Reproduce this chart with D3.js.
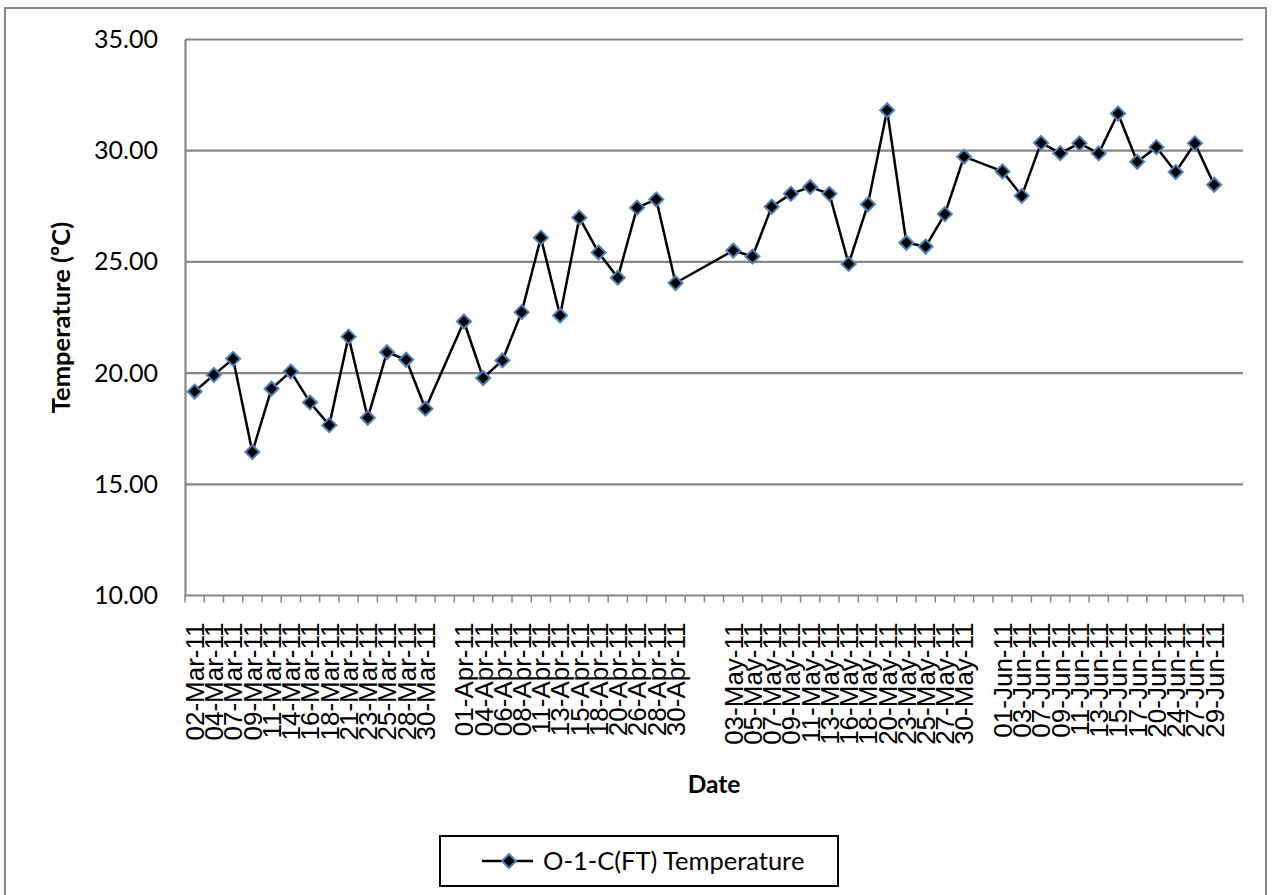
<!DOCTYPE html>
<html>
<head>
<meta charset="utf-8">
<script src="https://cdn.jsdelivr.net/npm/d3@7"></script>
<style>
  html, body { margin: 0; padding: 0; background: #ffffff; }
  svg { display: block; }
</style>
</head>
<body>
<svg id="chart" width="1272" height="895"></svg>
<script>
// ---- data ----
const categories = [
  "02-Mar-11","04-Mar-11","07-Mar-11","09-Mar-11","11-Mar-11","14-Mar-11","16-Mar-11","18-Mar-11","21-Mar-11","23-Mar-11","25-Mar-11","28-Mar-11","30-Mar-11",
  "",
  "01-Apr-11","04-Apr-11","06-Apr-11","08-Apr-11","11-Apr-11","13-Apr-11","15-Apr-11","18-Apr-11","20-Apr-11","26-Apr-11","28-Apr-11","30-Apr-11",
  "","",
  "03-May-11","05-May-11","07-May-11","09-May-11","11-May-11","13-May-11","16-May-11","18-May-11","20-May-11","23-May-11","25-May-11","27-May-11","30-May-11",
  "",
  "01-Jun-11","03-Jun-11","07-Jun-11","09-Jun-11","11-Jun-11","13-Jun-11","15-Jun-11","17-Jun-11","20-Jun-11","24-Jun-11","27-Jun-11","29-Jun-11",
  ""
];
const temperature = [
  19.17, 19.92, 20.64, 16.45, 19.30, 20.07, 18.68, 17.66, 21.64, 17.99, 20.94, 20.60, 18.40,
  null,
  22.32, 19.78, 20.57, 22.74, 26.09, 22.59, 26.99, 25.42, 24.29, 27.44, 27.81, 24.05,
  null, null,
  25.51, 25.24, 27.48, 28.06, 28.37, 28.06, 24.91, 27.59, 31.82, 25.86, 25.69, 27.15, 29.73,
  null,
  29.07, 27.97, 30.35, 29.89, 30.33, 29.88, 31.67, 29.50, 30.16, 29.04, 30.33, 28.47,
  null
];
const yTicks = [10, 15, 20, 25, 30, 35];
const seriesName = "O-1-C(FT) Temperature";
const xTitle = "Date";
const yTitle = "Temperature (ºC)";

// ---- layout ----
const svg = d3.select("#chart");
const plot = { left: 185, right: 1243, top: 39.5, bottom: 595.5 };
const grey = "#868686";
const calibri = "Lato, 'Open Sans', sans-serif";
const arial = "'Liberation Sans', Arial, sans-serif";

// outer chart border
svg.append("rect")
  .attr("x", 5).attr("y", 8).attr("width", 1261).attr("height", 900)
  .attr("fill", "none").attr("stroke", grey).attr("stroke-width", 2);

const x = d3.scaleBand()
  .domain(d3.range(categories.length))
  .range([plot.left, plot.right])
  .padding(0);
const y = d3.scaleLinear().domain([10, 35]).range([plot.bottom, plot.top]);

// gridlines
svg.append("g").selectAll("line")
  .data(yTicks.filter(t => t !== 10))
  .join("line")
  .attr("x1", plot.left).attr("x2", plot.right)
  .attr("y1", d => y(d)).attr("y2", d => y(d))
  .attr("stroke", grey).attr("stroke-width", 2.2);

// y axis
const yAxis = svg.append("g")
  .attr("transform", `translate(${plot.left},0)`)
  .call(d3.axisLeft(y).tickValues(yTicks).tickFormat(d3.format(".2f")).tickSize(0).tickPadding(27));
yAxis.select(".domain").attr("stroke", grey).attr("stroke-width", 2.2);
yAxis.selectAll("text")
  .attr("font-family", calibri).attr("font-size", 25).attr("fill", "#000");

// x axis
const xAxis = svg.append("g")
  .attr("transform", `translate(0,${plot.bottom})`)
  .call(d3.axisBottom(x).tickFormat(i => categories[i]).tickSize(0).tickPadding(0));
xAxis.select(".domain").attr("stroke", grey).attr("stroke-width", 2.2)
  .attr("d", `M${plot.left},0H${plot.right}`);
xAxis.selectAll(".tick text")
  .attr("font-family", arial).attr("font-size", 26).attr("fill", "#000")
  .attr("transform", "rotate(-90)")
  .attr("text-anchor", "end")
  .attr("x", -27).attr("y", 0).attr("dy", "0.36em");
// tick marks at category boundaries
const boundaries = d3.range(categories.length).map(i => x(i)).concat([plot.right]);
xAxis.append("g").selectAll("line")
  .data(boundaries)
  .join("line")
  .attr("x1", d => d).attr("x2", d => d)
  .attr("y1", 0).attr("y2", 7)
  .attr("stroke", grey).attr("stroke-width", 1.5);

// axis titles
svg.append("text")
  .attr("transform", `translate(61,${(plot.top + plot.bottom) / 2}) rotate(-90)`)
  .attr("text-anchor", "middle").attr("dy", "0.35em")
  .attr("font-family", calibri).attr("font-weight", "bold").attr("font-size", 25.5)
  .text(yTitle);
svg.append("text")
  .attr("x", (plot.left + plot.right) / 2).attr("y", 793)
  .attr("text-anchor", "middle")
  .attr("font-family", calibri).attr("font-weight", "bold").attr("font-size", 24.5)
  .text(xTitle);

// line + markers
const pts = temperature.map((v, i) => ({ i, v })).filter(d => d.v !== null);
const cx = i => x(i) + x.bandwidth() / 2;
svg.append("path")
  .datum(pts)
  .attr("d", d3.line().x(d => cx(d.i)).y(d => y(d.v)))
  .attr("fill", "none").attr("stroke", "#000").attr("stroke-width", 2.5)
  .attr("stroke-linejoin", "round");
const diamondPath = "M0,-7L7,0L0,7L-7,0Z";
svg.append("g").selectAll("path")
  .data(pts)
  .join("path")
  .attr("d", diamondPath)
  .attr("transform", d => `translate(${cx(d.i)},${y(d.v)})`)
  .attr("fill", "#000").attr("stroke", "#4F81BD").attr("stroke-width", 2);

// legend
const lg = svg.append("g");
lg.append("rect")
  .attr("x", 440).attr("y", 836).attr("width", 398).attr("height", 50)
  .attr("fill", "#fff").attr("stroke", "#000").attr("stroke-width", 2);
lg.append("line")
  .attr("x1", 482).attr("x2", 533).attr("y1", 861).attr("y2", 861)
  .attr("stroke", "#000").attr("stroke-width", 2.5);
lg.append("path")
  .attr("d", diamondPath)
  .attr("transform", "translate(509,861)")
  .attr("fill", "#000").attr("stroke", "#4F81BD").attr("stroke-width", 2);
lg.append("text")
  .attr("x", 543).attr("y", 861).attr("dy", "0.35em")
  .attr("font-family", calibri).attr("font-size", 25.5)
  .text(seriesName);
</script>
</body>
</html>
